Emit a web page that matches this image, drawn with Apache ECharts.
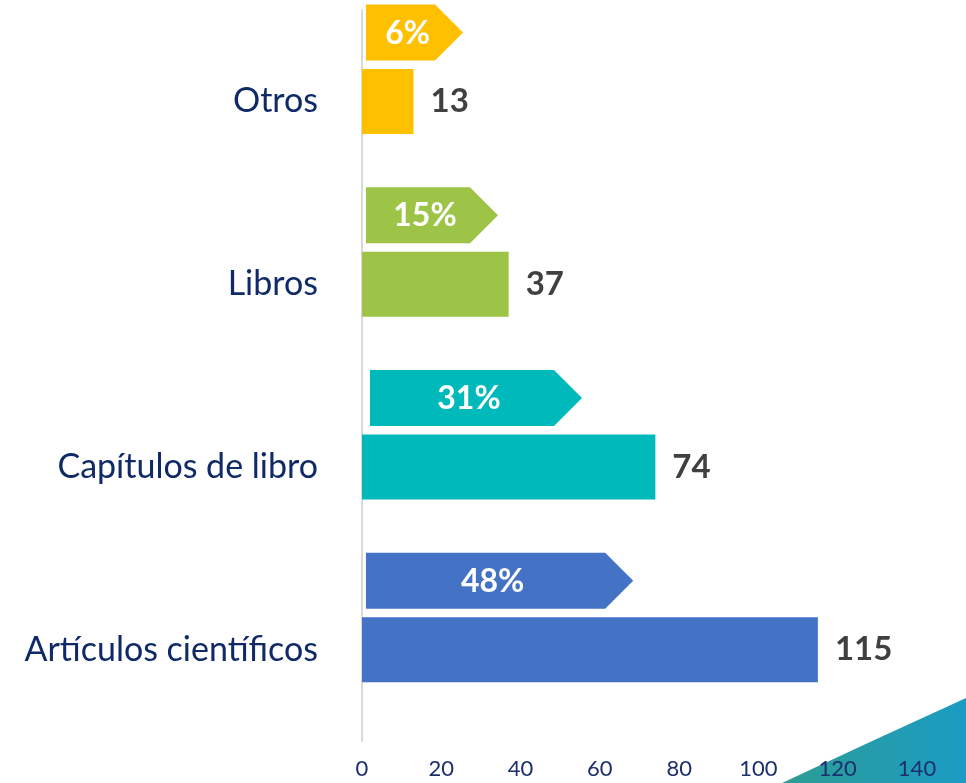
<!DOCTYPE html>
<html>
<head>
<meta charset="utf-8">
<script src="https://cdn.jsdelivr.net/npm/echarts@6/dist/echarts.min.js"></script>
<style>
  html, body { margin: 0; padding: 0; background: #fff; }
  #chart { width: 966px; height: 783px; }
</style>
</head>
<body>
<div id="chart"></div>
<script>
// Data (bottom to top)
const categories = ['Artículos científicos', 'Capítulos de libro', 'Libros', 'Otros']
const counts = [115, 74, 37, 13]
const percents = ['48%', '31%', '15%', '6%']
// arrow badges: where they start and end on the value axis
const arrowStart = [1, 2, 1, 1]
const arrowEnd = [68.4, 55.5, 34.3, 25.5]
const barColors = ['#4472C4', '#00B9BB', '#9DC447', '#FFC000']
const xTicks = [0, 20, 40, 60, 80, 100, 120, 140]

const chart = echarts.init(document.getElementById('chart'))

const FONT = 'Lato, "Open Sans", sans-serif'

function renderArrow(params, api) {
  const idx = api.value(2)
  const p0 = api.coord([api.value(0), idx])
  const p1 = api.coord([api.value(1), idx])
  const yTop = p0[1] - 97
  const yBot = p0[1] - 41
  const tip = (yBot - yTop) / 2
  const x0 = p0[0]
  const x1 = p1[0]
  return {
    type: 'group',
    children: [
      {
        type: 'polygon',
        shape: {
          points: [[x0, yTop], [x1 - tip, yTop], [x1, yTop + tip], [x1 - tip, yBot], [x0, yBot]]
        },
        style: { fill: barColors[idx] }
      },
      {
        type: 'text',
        style: {
          text: percents[idx],
          x: (x0 + x1) / 2 - tip / 4,
          y: yTop + tip + 1,
          align: 'center',
          verticalAlign: 'middle',
          fill: '#ffffff',
          font: 'bold 32px ' + FONT
        }
      }
    ]
  }
}

const option = {
  backgroundColor: '#ffffff',
  animation: false,
  graphic: [{
    type: 'polygon',
    z: -10,
    shape: { points: [[782, 783], [870, 742], [966, 698], [966, 783]] },
    style: {
      fill: new echarts.graphic.LinearGradient(0, 0, 1, 0, [
        { offset: 0, color: '#2E9C94' },
        { offset: 1, color: '#1B9CC4' }
      ])
    }
  }],
  grid: { left: 362, right: 49, top: 10, bottom: 42 },
  xAxis: {
    type: 'value',
    min: 0,
    max: 140,
    interval: 20,
    z: 10,
    axisLine: { show: false },
    axisTick: { show: false },
    splitLine: { show: false },
    axisLabel: {
      margin: 17,
      fontSize: 22,
      fontFamily: FONT,
      color: '#1B2F6E',
      formatter: v => (xTicks.includes(v) ? String(v) : '')
    }
  },
  yAxis: {
    type: 'category',
    data: categories,
    axisLine: { show: true, lineStyle: { color: '#D9D9D9', width: 2 } },
    axisTick: { show: false },
    axisLabel: {
      margin: 44,
      fontSize: 34,
      fontFamily: FONT,
      color: '#0F2A66'
    }
  },
  series: [
    {
      type: 'bar',
      barWidth: 65,
      data: counts.map((v, i) => ({ value: v, itemStyle: { color: barColors[i] } })),
      label: {
        show: true,
        position: 'right',
        distance: 17,
        fontSize: 33,
        fontWeight: 'bold',
        fontFamily: FONT,
        color: '#404040'
      }
    },
    {
      type: 'custom',
      renderItem: renderArrow,
      encode: { x: [0, 1], y: 2 },
      data: categories.map((c, i) => [arrowStart[i], arrowEnd[i], i]),
      z: 3
    }
  ]
}

chart.setOption(option)
</script>
</body>
</html>
